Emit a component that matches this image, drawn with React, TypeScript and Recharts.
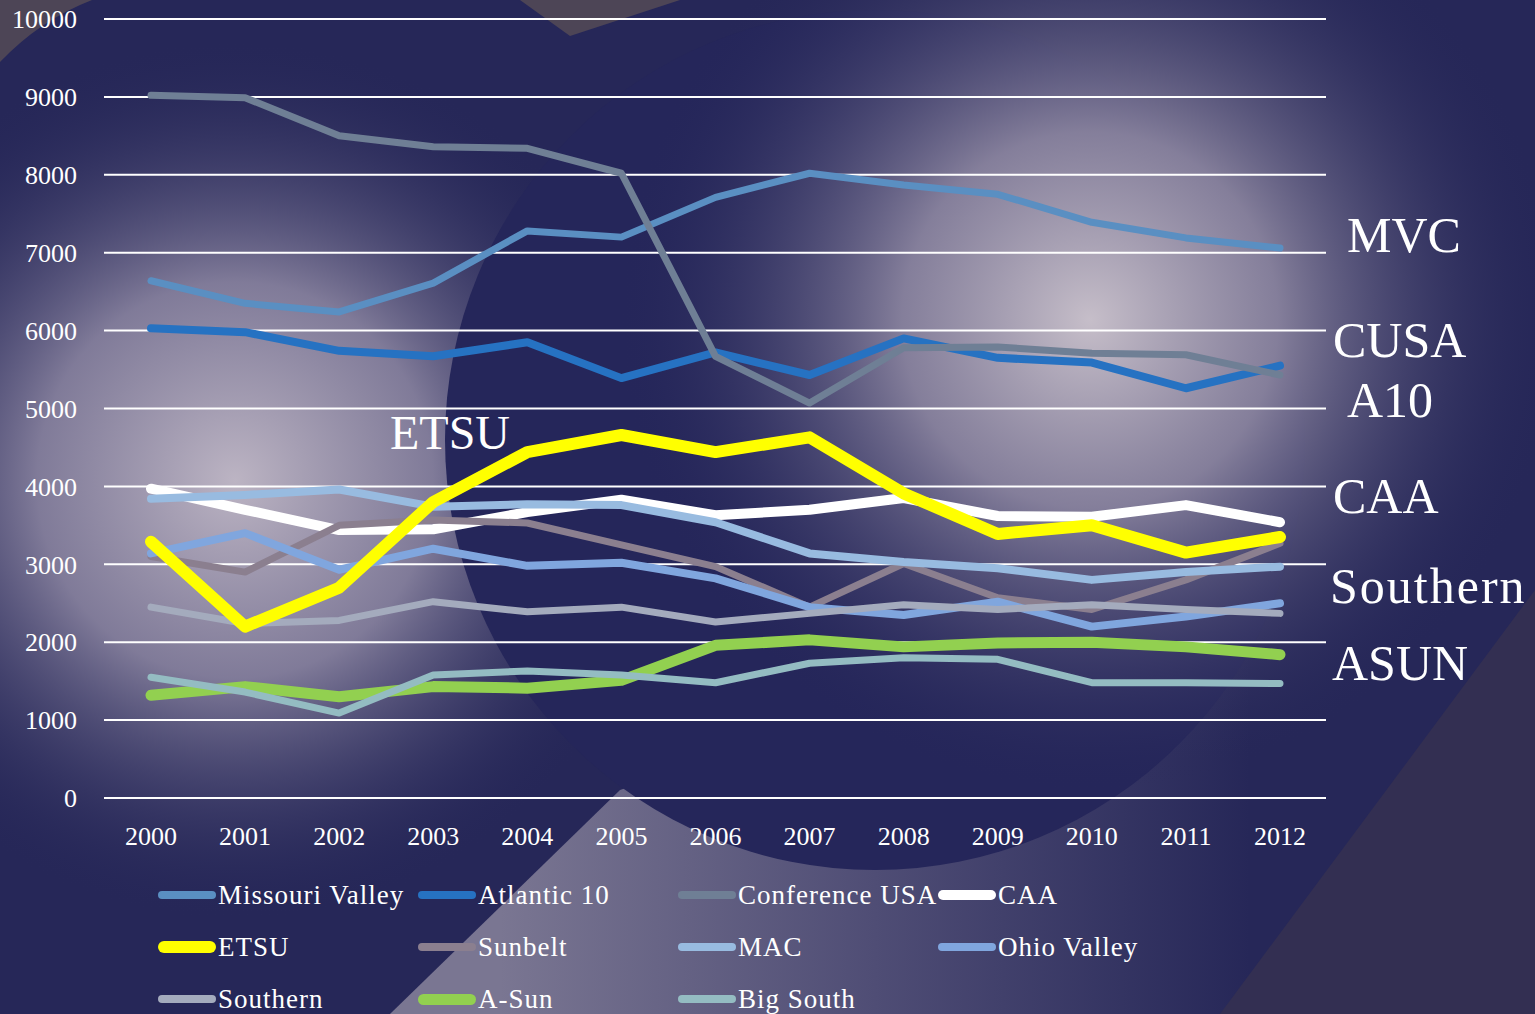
import { LineChart, Line, XAxis, YAxis, CartesianGrid } from "recharts";

const years = ["2000", "2001", "2002", "2003", "2004", "2005", "2006", "2007", "2008", "2009", "2010", "2011", "2012"];
const yTicks = [0, 1000, 2000, 3000, 4000, 5000, 6000, 7000, 8000, 9000, 10000];

const missouriValley = [6640, 6350, 6240, 6610, 7280, 7200, 7710, 8020, 7870, 7750, 7390, 7190, 7060];
const atlantic10 = [6030, 5980, 5740, 5670, 5850, 5390, 5720, 5430, 5900, 5650, 5590, 5260, 5550];
const conferenceUSA = [9020, 8990, 8500, 8360, 8340, 8020, 5670, 5070, 5780, 5790, 5710, 5690, 5430];
const caa = [3970, 3700, 3440, 3450, 3670, 3830, 3630, 3700, 3850, 3620, 3610, 3760, 3540];
const etsu = [3290, 2200, 2700, 3800, 4440, 4660, 4440, 4630, 3910, 3390, 3500, 3150, 3350];
const sunbelt = [3100, 2900, 3500, 3570, 3530, 3250, 2970, 2450, 3010, 2570, 2420, 2800, 3270];
const mac = [3840, 3890, 3960, 3740, 3770, 3760, 3540, 3140, 3030, 2950, 2800, 2900, 2970];
const ohioValley = [3140, 3400, 2930, 3200, 2980, 3020, 2820, 2450, 2350, 2520, 2200, 2330, 2500];
const southern = [2450, 2240, 2280, 2520, 2390, 2450, 2260, 2370, 2480, 2420, 2480, 2420, 2370];
const aSun = [1320, 1430, 1300, 1430, 1410, 1510, 1960, 2030, 1940, 1990, 2000, 1940, 1840];
const bigSouth = [1550, 1360, 1090, 1580, 1630, 1580, 1480, 1730, 1800, 1780, 1480, 1480, 1470];

// legend order (Excel series order)
const series = [
  { key: "mv", name: "Missouri Valley", color: "#5a8fc2", width: 7, values: missouriValley },
  { key: "a10", name: "Atlantic 10", color: "#2672c2", width: 8, values: atlantic10 },
  { key: "cusa", name: "Conference USA", color: "#6f7f95", width: 7, values: conferenceUSA },
  { key: "caa", name: "CAA", color: "#ffffff", width: 10, values: caa },
  { key: "etsu", name: "ETSU", color: "#ffff00", width: 12, values: etsu },
  { key: "sunbelt", name: "Sunbelt", color: "#8b7f8f", width: 7, values: sunbelt },
  { key: "mac", name: "MAC", color: "#98bbe0", width: 8, values: mac },
  { key: "ov", name: "Ohio Valley", color: "#80a6de", width: 8, values: ohioValley },
  { key: "southern", name: "Southern", color: "#a4abbd", width: 7, values: southern },
  { key: "asun", name: "A-Sun", color: "#92d050", width: 11, values: aSun },
  { key: "bigsouth", name: "Big South", color: "#94bcc2", width: 7, values: bigSouth },
];

// ETSU sits on top of the rest
const drawOrder = [...series.filter((s) => s.key !== "etsu"), ...series.filter((s) => s.key === "etsu")];

const data = years.map((year, i) => {
  const row: Record<string, string | number> = { year };
  series.forEach((s) => {
    row[s.key] = s.values[i];
  });
  return row;
});

const sideLabels = [
  { text: "MVC", x: 1347, y: 252, size: 50, spacing: 0 },
  { text: "CUSA", x: 1333, y: 357, size: 50, spacing: 0 },
  { text: "A10", x: 1347, y: 417, size: 50, spacing: 0 },
  { text: "CAA", x: 1333, y: 513, size: 50, spacing: 0 },
  { text: "Southern", x: 1330, y: 603, size: 50, spacing: 2 },
  { text: "ASUN", x: 1332, y: 680, size: 50, spacing: 0 },
  { text: "ETSU", x: 390, y: 449, size: 48, spacing: 0 },
];

const font = "'Liberation Serif', 'DejaVu Serif', serif";

function Background() {
  return (
    <svg width={1535} height={1014} style={{ position: "absolute", left: 0, top: 0 }}>
      <defs>
        <radialGradient id="glowL" cx={235} cy={480} r={440} gradientUnits="userSpaceOnUse">
          <stop offset="0" stopColor="#bcb4c3" stopOpacity={1} />
          <stop offset="0.45" stopColor="#8a84a0" stopOpacity={0.9} />
          <stop offset="1" stopColor="#262758" stopOpacity={0} />
        </radialGradient>
        <radialGradient id="glowR" cx={1090} cy={320} r={470} gradientUnits="userSpaceOnUse">
          <stop offset="0" stopColor="#c6bec9" stopOpacity={1} />
          <stop offset="0.4" stopColor="#958ea6" stopOpacity={0.85} />
          <stop offset="1" stopColor="#262758" stopOpacity={0} />
        </radialGradient>
        <linearGradient id="lower" x1={500} y1={0} x2={1250} y2={0} gradientUnits="userSpaceOnUse">
          <stop offset="0" stopColor="#7a7692" />
          <stop offset="0.5" stopColor="#4f4d75" />
          <stop offset="1" stopColor="#262758" />
        </linearGradient>
      </defs>
      <rect width={1535} height={1014} fill="#262758" />
      <rect width={1535} height={1014} fill="url(#glowL)" />
      <polygon points="390,1014 620,790 1300,560 1535,560 1535,1014" fill="url(#lower)" />
      <polygon points="1535,590 1220,1014 1535,1014" fill="#332f52" />
      <path d="M0,62 Q40,20 92,0 L0,0 Z" fill="#4d4556" />
      <polygon points="520,0 680,0 570,36" fill="#4d4556" />
      <circle cx={875} cy={440} r={430} fill="#25265a" />
      <rect width={1535} height={1014} fill="url(#glowR)" />
    </svg>
  );
}

export default function App() {
  return (
    <div style={{ position: "absolute", left: 0, top: 0, width: 1535, height: 1014, overflow: "hidden", fontFamily: font }}>
      <Background />
      <div style={{ position: "absolute", left: 0, top: 0 }}>
        <LineChart width={1535} height={1014} data={data} margin={{ top: 19, right: 209, bottom: 0, left: 0 }}>
          <CartesianGrid vertical={false} stroke="#ffffff" strokeWidth={2} />
          <XAxis
            dataKey="year"
            height={216}
            axisLine={false}
            tickLine={false}
            tickMargin={23}
            padding={{ left: 47, right: 46 }}
            tick={{ fill: "#ffffff", fontSize: 26, fontFamily: font }}
          />
          <YAxis
            width={104}
            domain={[0, 10000]}
            ticks={yTicks}
            axisLine={false}
            tickLine={false}
            tickMargin={21}
            tick={{ fill: "#ffffff", fontSize: 26, fontFamily: font }}
          />
          {drawOrder.map((s) => (
            <Line
              key={s.key}
              dataKey={s.key}
              name={s.name}
              stroke={s.color}
              strokeWidth={s.width}
              strokeLinecap="round"
              strokeLinejoin="round"
              dot={false}
              activeDot={false}
              isAnimationActive={false}
            />
          ))}
        </LineChart>
      </div>
      <svg width={1535} height={1014} style={{ position: "absolute", left: 0, top: 0, pointerEvents: "none" }}>
        {sideLabels.map((l) => (
          <text key={l.text} x={l.x} y={l.y} fill="#ffffff" fontSize={l.size} fontFamily={font} letterSpacing={l.spacing}>
            {l.text}
          </text>
        ))}
      </svg>
      <div style={{ position: "absolute", left: 158, top: 872, width: 1100 }}>
        {series.map((s, i) => (
          <div
            key={s.key}
            style={{
              position: "absolute",
              left: (i % 4) * 260,
              top: Math.floor(i / 4) * 52,
              display: "flex",
              alignItems: "center",
              height: 46,
              whiteSpace: "nowrap",
            }}
          >
            <span
              style={{
                display: "inline-block",
                width: 58,
                height: Math.min(12, Math.max(8, s.width)),
                borderRadius: 6,
                background: s.color,
                marginRight: 2,
              }}
            />
            <span style={{ color: "#ffffff", fontSize: 27, fontFamily: font, letterSpacing: 1 }}>{s.name}</span>
          </div>
        ))}
      </div>
    </div>
  );
}
